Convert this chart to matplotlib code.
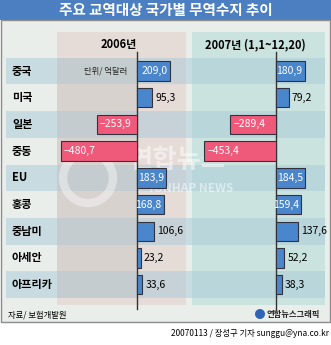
import matplotlib
matplotlib.use('Agg')
import matplotlib.pyplot as plt
from matplotlib.patches import Rectangle, Circle

plt.rcParams['font.family'] = ['Noto Sans CJK KR', 'DejaVu Sans']

# 데이터 (단위: 억달러)
title = '주요 교역대상 국가별 무역수지 추이'
periods = ['2006년', '2007년 (1,1~12,20)']
categories = ['중국', '미국', '일본', '중동', 'EU', '홍콩', '중남미', '아세안', '아프리카']
bal_2006 = [209.0, 95.3, -253.9, -480.7, 183.9, 168.8, 106.6, 23.2, 33.6]
bal_2007 = [180.9, 79.2, -289.4, -453.4, 184.5, 159.4, 137.6, 52.2, 38.3]
unit_note = '단위/ 억달러'
source = '자료/ 보험개발원'
credit = '20070113 / 장성구 기자 sunggu@yna.co.kr'
logo_text = '연합뉴스그래픽'

W, H = 331, 345
PX = 0.158          # pixels per 억달러
ROW_TOP, ROW_H = 57.7, 26.7
POS_C, NEG_C = '#4a86cb', '#ef5a7b'


def fmt(v):
    return f'{v:.1f}'.replace('.', ',').replace('-', '\u2212')


fig = plt.figure(figsize=(W / 100, H / 100), dpi=100)
bg = fig.add_axes([0, 0, 1, 1])
bg.set_xlim(0, W)
bg.set_ylim(H, 0)
bg.axis('off')


def rect(x0, y0, x1, y1, **kw):
    bg.add_patch(Rectangle((x0, y0), x1 - x0, y1 - y0, **kw))


# 배경, 타이틀
rect(0, 0, W, 20, fc='#4b7fc2', ec='none')
rect(1, 20, 329.5, 322, fc='#e9eeea', ec='#8c8c8c', lw=1)
bg.text(W / 2, 10, title, color='white', fontsize=10.5, fontweight='bold',
        ha='center', va='center')

n = len(categories)
y_bot = ROW_TOP + n * ROW_H
panels = [(57, 186, 137, '#e6dcd7', bal_2006), (192, 324.5, 276, '#cbe3de', bal_2007)]

for (x0, x1, z, col, _), label in zip(panels, periods):
    rect(x0, 32, x1, 305, fc=col, ec='none')
    bg.text((x0 + x1) / 2 - 3, 44.5, label, fontsize=8, fontweight='bold',
            ha='center', va='center')

# 줄무늬
for i in range(0, n, 2):
    y0 = ROW_TOP + i * ROW_H
    rect(6, y0, 325, y0 + ROW_H, fc='#a8cad8', ec='none', alpha=0.5)
# 2006 음수 영역 회색
rect(57, ROW_TOP, 137, y_bot, fc='#c4c4c4', ec='none', alpha=0.4)

for i, c in enumerate(categories):
    bg.text(12, ROW_TOP + (i + 0.5) * ROW_H, c, fontsize=8, fontweight='bold',
            ha='left', va='center')

bg.text(127, ROW_TOP + 0.5 * ROW_H, unit_note, fontsize=6, style='italic',
        ha='right', va='center', color='#222222')

# 워터마크
bg.add_patch(Circle((88, 178), 25, fc='none', ec='white', lw=6, alpha=0.4))
bg.text(177, 161, '연합뉴스', fontsize=19, fontweight='bold', color='white',
        alpha=0.5, ha='center', va='center')
bg.text(190, 188, 'YONHAP NEWS', fontsize=8.5, fontweight='bold', color='white',
        alpha=0.5, ha='center', va='center')

# 막대
for x0, x1, z, col, vals in panels:
    ax = fig.add_axes([x0 / W, 1 - y_bot / H, (x1 - x0) / W, (y_bot - ROW_TOP) / H])
    ax.set_xlim((x0 - z) / PX, (x1 - z) / PX)
    ax.set_ylim(n - 0.5, -0.5)
    ax.axis('off')
    ax.patch.set_alpha(0)
    span = y_bot - ROW_TOP
    ax.axvline(0, ymin=-(309 - y_bot) / span, ymax=1 + (ROW_TOP - 52) / span,
               color='#333333', lw=1, clip_on=False, zorder=1)
    colors = [POS_C if v > 0 else NEG_C for v in vals]
    ax.barh(range(n), vals, height=0.73, color=colors, edgecolor='#33333f',
            lw=0.8, zorder=2)
    for i, v in enumerate(vals):
        if abs(v) >= 150:
            if v > 0:
                ha, dx = 'right', -2
            else:
                ha, dx = 'left', 3
            tc = 'white'
        else:
            ha, dx, tc = 'left', 3, 'black'
        ax.annotate(fmt(v), (v, i), xytext=(dx * 0.72, 0), textcoords='offset points',
                    ha=ha, va='center', fontsize=7.5, color=tc, zorder=3)

# 하단
bg.text(8, 315, source, fontsize=6, style='italic', ha='left', va='center')
bg.add_patch(Circle((260, 314), 5, fc='#2f63b8', ec='none'))
bg.text(267, 314, logo_text, fontsize=6, style='italic', fontweight='bold',
        ha='left', va='center', color='#222222')
bg.text(329, 333, credit, fontsize=6, ha='right', va='center')

fig.savefig('out.png', dpi=100)
